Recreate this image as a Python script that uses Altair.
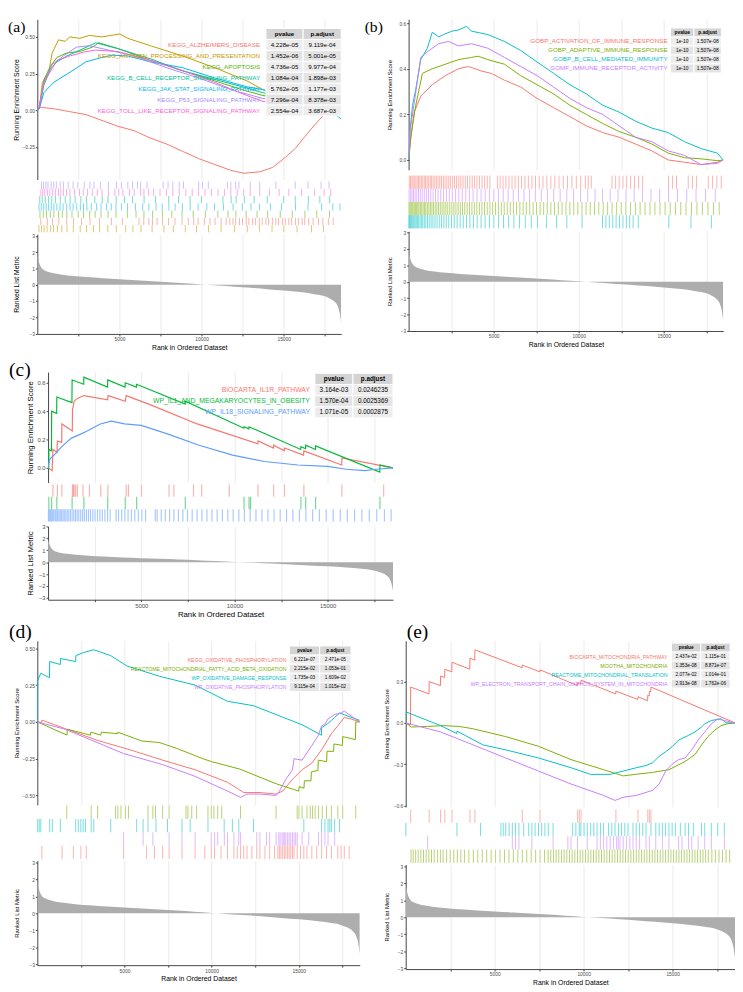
import altair as alt
import pandas as pd

SANS = "Liberation Sans"
SERIF = "Liberation Serif"
GRID_COLOR = "#EBEBEB"
AXIS_COLOR = "#444444"
LABEL_COLOR = "#4D4D4D"
AREA_COLOR = "#ADADAD"
HEADER_FILL = "#D4D4D4"
CELL_FILLS = ["#EDEDED", "#E4E4E4"]

RANK_MAX = 18500
GRID_RANKS = [2500, 5000, 7500, 10000, 12500, 15000, 17500]
METRIC_TICKS = [-3, -2, -1, 0, 1, 2, 3]
TABLE_HEADER = ["pvalue", "p.adjust"]
X_TITLE = "Rank in Ordered Dataset"
ES_TITLE = "Running Enrichment Score"
METRIC_TITLE = "Ranked List Metric"

# ranked list metric (shared gene ranking)
METRIC_RANK = [0, 100, 250, 450, 700, 1000, 1500, 2200, 3000, 4000, 5000, 6000, 7000, 8000, 9000,
               10000, 11000, 12000, 13000, 14000, 15000, 16000, 16800, 17400, 17800, 18100, 18300, 18420, 18500]
METRIC_SCORE = [1.9, 1.4, 1.05, 0.88, 0.78, 0.70, 0.62, 0.54, 0.47, 0.40, 0.34, 0.28, 0.22, 0.16, 0.09,
                0.02, -0.05, -0.12, -0.19, -0.27, -0.35, -0.45, -0.56, -0.68, -0.84, -1.05, -1.35, -1.8, -2.4]

# ---------------- panel (a) ----------------
A_NAMES = ["KEGG_ALZHEIMERS_DISEASE", "KEGG_ANTIGEN_PROCESSING_AND_PRESENTATION", "KEGG_APOPTOSIS",
           "KEGG_B_CELL_RECEPTOR_SIGNALING_PATHWAY", "KEGG_JAK_STAT_SIGNALING_PATHWAY",
           "KEGG_P53_SIGNALING_PATHWAY", "KEGG_TOLL_LIKE_RECEPTOR_SIGNALING_PATHWAY"]
A_COLORS = ["#F8766D", "#C49A00", "#53B400", "#00C094", "#00B6EB", "#A58AFF", "#FB61D7"]
A_PVALUE = ["4.228e-05", "1.452e-06", "4.736e-05", "1.084e-04", "5.762e-05", "7.296e-04", "2.554e-04"]
A_PADJUST = ["9.119e-04", "5.001e-05", "9.977e-04", "1.898e-03", "1.177e-03", "8.378e-03", "3.687e-03"]
A_TRACK_ORDER = [5, 6, 3, 4, 2, 0, 1]

A1_RANK = [0, 180, 1000, 1980, 2960, 3940, 4920, 5900, 6880, 7860, 8840, 9820, 10800, 11780, 12570, 13550,
           14330, 15120, 15710, 16290, 16880, 17470, 17860, 18500]
A1_ES = [0, 0.02, 0.01, -0.01, -0.03, -0.07, -0.11, -0.14, -0.19, -0.23, -0.28, -0.33, -0.37, -0.41, -0.43, -0.42,
         -0.39, -0.32, -0.26, -0.18, -0.10, -0.03, 0.0, 0.0]
A2_RANK = [0, 120, 310, 700, 900, 1290, 1690, 1980, 2570, 3160, 3940, 5020, 5510, 6880, 8840, 10800, 12760,
           13740, 15310, 16880, 18500]
A2_ES = [0, 0.01, 0.19, 0.26, 0.39, 0.48, 0.47, 0.50, 0.49, 0.51, 0.50, 0.52, 0.49, 0.44, 0.37, 0.29, 0.20,
         0.14, 0.06, 0.01, 0.0]
A3_RANK = [0, 120, 410, 800, 1200, 1780, 2570, 3350, 3740, 4920, 6880, 8840, 10800, 12760, 13740, 15700, 17660, 18500]
A3_ES = [0, 0.01, 0.21, 0.30, 0.36, 0.39, 0.40, 0.43, 0.46, 0.42, 0.34, 0.27, 0.20, 0.13, 0.10, 0.07, 0.03, 0.0]
A4_RANK = [0, 120, 400, 800, 1200, 1800, 2600, 3550, 4900, 6900, 8800, 10800, 12800, 13700, 15700, 17600, 18500]
A4_ES = [0, 0.02, 0.17, 0.28, 0.33, 0.37, 0.41, 0.46, 0.42, 0.35, 0.27, 0.21, 0.15, 0.12, 0.08, 0.04, 0.0]
A5_RANK = [0, 120, 400, 1000, 2000, 2960, 3940, 4530, 5500, 6880, 8840, 10800, 12760, 13740, 15700, 17660, 18500]
A5_ES = [0, 0.01, 0.12, 0.19, 0.26, 0.33, 0.36, 0.375, 0.37, 0.33, 0.29, 0.22, 0.16, 0.14, 0.08, 0.01, -0.06]
A6_RANK = [0, 120, 400, 900, 1590, 2380, 3160, 3940, 5900, 7860, 9820, 11780, 13740, 15700, 17660, 18500]
A6_ES = [0, 0.02, 0.19, 0.31, 0.37, 0.43, 0.44, 0.42, 0.37, 0.29, 0.22, 0.14, 0.08, 0.06, 0.02, 0.0]
A7_RANK = [0, 120, 400, 1200, 1980, 2960, 3550, 4920, 6880, 8840, 10800, 12760, 13740, 15700, 17660, 18500]
A7_ES = [0, 0.03, 0.19, 0.34, 0.37, 0.40, 0.41, 0.40, 0.34, 0.27, 0.19, 0.10, 0.06, 0.03, 0.01, 0.0]

A1_HITS = [210, 610, 920, 1310, 1790, 2210, 2690, 3210, 3790, 4510, 5190, 6190, 6480, 6790, 7010, 7290, 7620, 7990,
           8380, 8810, 9190, 9520, 9790, 10180, 10510, 10820, 11190, 11490, 11720, 11910, 12080, 12310, 12490, 12720,
           12880, 13110, 13290, 13520, 13690, 13920, 14080, 14310, 14520, 14680, 14920, 15090, 15310, 15480, 15720,
           15890, 16120, 16280, 16520, 16790, 17120, 17380, 17720, 18010]
A2_HITS = [100, 260, 410, 590, 810, 990, 1220, 1490, 1810, 2190, 2610, 2990, 3420, 3790, 4290, 4810, 5380, 5820,
           6310, 6990, 7710, 8280, 9010, 9690, 10420, 11190, 12010, 12780, 13520, 14290, 15010, 15810, 16690, 17420]
A3_HITS = [160, 360, 560, 790, 1010, 1290, 1520, 1800, 2110, 2490, 2810, 3190, 3520, 3880, 4310, 4790, 5480, 6010,
           6490, 7020, 7610, 8190, 8810, 9490, 10230, 10990, 11610, 12090, 12710, 13380, 14020, 14790, 15520, 16290,
           17010, 17790]
A4_HITS = [150, 300, 480, 690, 880, 1100, 1400, 1700, 2000, 2300, 2650, 3000, 3500, 3950, 4300, 4800, 5300, 5800,
           6500, 7200, 8000, 8600, 9300, 10000, 11300, 11800, 12100, 12600, 13200, 14000, 15000, 15700, 16500, 17200,
           17800]
A5_HITS = [100, 240, 390, 540, 690, 850, 1010, 1190, 1380, 1570, 1790, 1990, 2180, 2400, 2620, 2810, 3020, 3290,
           3610, 3880, 4210, 4500, 4790, 5120, 5490, 5980, 6410, 6790, 7230, 7600, 8010, 8390, 8830, 9310, 9790,
           10320, 10790, 11330, 11920, 12480, 13010, 13520, 14190, 14870, 15720, 16480, 17310, 17990, 18420]
A6_HITS = [250, 380, 520, 650, 840, 1000, 1160, 1390, 1590, 1880, 2180, 2470, 2860, 3200, 3450, 3840, 4330, 4820,
           5120, 5510, 5800, 6100, 6290, 6680, 7660, 7960, 8250, 8640, 8900, 9820, 10050, 10410, 11580, 11780,
           12070, 12270, 12960, 13540, 14520, 15700, 16480, 17270, 17760]
A7_HITS = [220, 330, 450, 610, 760, 920, 1100, 1290, 1430, 1590, 1780, 1980, 2270, 2570, 2800, 3060, 3350, 3650,
           3940, 4330, 4720, 4960, 5210, 5610, 5900, 6290, 6490, 6780, 7080, 7470, 7860, 8250, 8640, 9040, 9430,
           9820, 10210, 10600, 11000, 11390, 11780, 12170, 12560, 12960, 13540, 14130, 14720, 15310, 16090, 16880,
           17460, 17860]

# ---------------- panel (b) ----------------
B_NAMES = ["GOBP_ACTIVATION_OF_IMMUNE_RESPONSE", "GOBP_ADAPTIVE_IMMUNE_RESPONSE",
           "GOBP_B_CELL_MEDIATED_IMMUNITY", "GOMF_IMMUNE_RECEPTOR_ACTIVITY"]
B_COLORS = ["#F8766D", "#7CAE00", "#00BFC4", "#C77CFF"]
B_PVALUE = ["1e-10", "1e-10", "1e-10", "1e-10"]
B_PADJUST = ["1.507e-08", "1.507e-08", "1.507e-08", "1.507e-08"]
B_TRACK_ORDER = [0, 3, 1, 2]

B1_RANK = [0, 135, 330, 710, 1390, 2160, 2930, 3510, 4280, 4860, 5630, 6590, 7550, 8520, 9480, 10440, 11410,
           12370, 13340, 14300, 15260, 16230, 17190, 18150, 18500]
B1_ES = [0, 0.096, 0.21, 0.28, 0.33, 0.37, 0.40, 0.41, 0.39, 0.38, 0.35, 0.32, 0.27, 0.23, 0.19, 0.15, 0.12,
         0.10, 0.07, 0.04, 0.0, -0.01, -0.02, -0.01, 0.0]
B2_RANK = [0, 135, 420, 810, 1390, 2160, 2930, 3700, 4090, 4660, 5630, 6590, 7550, 8520, 9480, 10440, 11410,
           12370, 13340, 14300, 15260, 16230, 17190, 18150, 18500]
B2_ES = [0, 0.11, 0.24, 0.38, 0.40, 0.42, 0.44, 0.45, 0.455, 0.44, 0.42, 0.37, 0.33, 0.29, 0.24, 0.20, 0.16,
         0.125, 0.10, 0.07, 0.03, 0.01, 0.005, -0.003, 0.0]
B3_RANK = [0, 80, 230, 420, 710, 1100, 1390, 1770, 2060, 2540, 2930, 3410, 3700, 4660, 5630, 6590, 7550, 8520,
           9480, 10440, 11410, 12370, 13340, 14300, 15260, 16230, 17190, 18150, 18500]
B3_ES = [0, 0.125, 0.24, 0.31, 0.44, 0.49, 0.56, 0.54, 0.55, 0.565, 0.57, 0.586, 0.565, 0.55, 0.52, 0.48, 0.43,
         0.38, 0.33, 0.29, 0.24, 0.21, 0.17, 0.14, 0.12, 0.08, 0.05, 0.03, 0.0]
B4_RANK = [0, 80, 330, 710, 1200, 1770, 2350, 2930, 3700, 4660, 5630, 6590, 7550, 8520, 9480, 10440, 11410,
           12370, 13340, 14300, 15260, 16230, 17190, 18150, 18500]
B4_ES = [0, 0.125, 0.25, 0.45, 0.48, 0.51, 0.52, 0.50, 0.51, 0.49, 0.45, 0.41, 0.37, 0.32, 0.27, 0.23, 0.20,
         0.15, 0.10, 0.08, 0.04, 0.02, -0.02, -0.015, 0.0]

B1_HITS = [40, 110, 190, 260, 330, 420, 500, 580, 660, 750, 830, 920, 1000, 1090, 1180, 1270, 1350, 1440, 1540,
           1630, 1730, 1830, 1930, 2040, 2140, 2250, 2360, 2470, 2590, 2700, 2820, 2950, 3070, 3200, 3330, 3460,
           3600, 3740, 3880, 4020, 4170, 4320, 4470, 4620, 4780, 5220, 5380, 5550, 5720, 5900, 6080, 6260, 6450,
           6640, 6840, 7040, 7250, 7460, 7680, 7900, 8130, 8360, 8600, 8840, 9090, 9340, 9600, 9860, 10120, 10390,
           10560, 10740, 11960, 12170, 12380, 12600, 12820, 13050, 13280, 13520, 13760, 15280, 15520, 15750, 16440,
           16690, 16930, 17620, 17870, 18120, 18380]
B2_HITS = [20, 80, 140, 200, 260, 330, 400, 470, 540, 610, 690, 770, 850, 930, 1010, 1100, 1190, 1280, 1370, 1460,
           1560, 1660, 1760, 1860, 1970, 2080, 2190, 2300, 2420, 2540, 2660, 2780, 2910, 3040, 3170, 3300, 3440,
           3580, 3720, 3860, 4010, 4160, 4310, 4460, 4620, 4780, 4940, 5110, 5280, 5450, 5620, 5800, 5980, 6160,
           6350, 6540, 6730, 6920, 7120, 7320, 7520, 7730, 7940, 8150, 8360, 8580, 8800, 9020, 9250, 9480, 9710,
           9950, 10190, 10430, 10680, 10930, 11180, 11440, 11700, 11960, 12230, 12500, 12770, 13050, 13330, 13610,
           13900, 14190, 14480, 14780, 15080, 15380, 15690, 16000, 16310, 16630, 16950, 17270, 17600, 17930, 18260]
B3_HITS = [10, 50, 100, 150, 200, 260, 320, 380, 450, 520, 590, 670, 750, 830, 920, 1010, 1110, 1210, 1320, 1430,
           1550, 1670, 1800, 1930, 2070, 2210, 2360, 2520, 2680, 2850, 3030, 3210, 3400, 3600, 3810, 4030, 4260,
           4500, 4750, 5010, 5290, 5580, 5880, 6190, 6520, 6860, 7210, 7580, 8100, 8700, 9300, 10200, 11400, 11600,
           11800, 12000, 12200, 12400, 12600, 12800, 13000, 13200, 13500, 15300, 16600, 17800]
B4_HITS = [30, 120, 200, 290, 380, 480, 580, 690, 800, 920, 1040, 1170, 1300, 1440, 1580, 1730, 1890, 2050, 2220,
           2390, 2570, 2760, 2950, 3150, 3360, 3570, 3790, 4020, 4260, 4500, 4750, 5010, 5280, 5560, 5850, 6150,
           6460, 6780, 7110, 7450, 7800, 8160, 8530, 8910, 9300, 9700, 10110, 10530, 10960, 11400, 11850, 12310,
           12780, 13260, 13750, 14250, 14760, 15280, 15810, 16350, 16900, 17460, 18030]

# ---------------- panel (c) ----------------
C_NAMES = ["BIOCARTA_IL1R_PATHWAY", "WP_IL1_AND_MEGAKARYOCYTES_IN_OBESITY", "WP_IL18_SIGNALING_PATHWAY"]
C_COLORS = ["#F8766D", "#00BA38", "#619CFF"]
C_PVALUE = ["3.164e-03", "1.570e-04", "1.071e-05"]
C_PADJUST = ["0.0246235", "0.0025369", "0.0002875"]
C_TRACK_ORDER = [0, 1, 2]

C1_RANK = [0, 220, 262, 480, 500, 733, 740, 1300, 1310, 1396, 1570, 1920, 3200, 3220, 4140, 4190, 5400, 8000,
           11250, 11260, 12090, 12100, 12670, 12680, 13700, 13720, 15750, 15760, 18500]
C1_ES = [0, -0.02, 0.13, 0.11, 0.19, 0.18, 0.31, 0.26, 0.41, 0.47, 0.49, 0.51, 0.48, 0.51, 0.47, 0.51, 0.45, 0.31,
         0.17, 0.19, 0.14, 0.16, 0.12, 0.14, 0.09, 0.12, 0.02, 0.07, 0.0]
C2_RANK = [0, 35, 40, 185, 192, 460, 470, 1280, 1290, 1910, 1920, 3190, 3200, 4130, 4140, 4740, 4750, 7350, 7360,
           10500, 10510, 10770, 10780, 13550, 13560, 13810, 13820, 14340, 14350, 17790, 17800, 18500]
C2_ES = [0, -0.002, 0.13, 0.12, 0.40, 0.385, 0.50, 0.46, 0.62, 0.59, 0.64, 0.57, 0.62, 0.57, 0.60, 0.57, 0.59,
         0.45, 0.47, 0.28, 0.29, 0.275, 0.29, 0.13, 0.15, 0.135, 0.16, 0.13, 0.155, -0.03, 0.02, 0.0]
C3_RANK = [0, 80, 400, 733, 1250, 1780, 2100, 2800, 3400, 4100, 5000, 6400, 8100, 9900, 11600, 13400, 15000, 16000,
           17000, 17600, 18500]
C3_ES = [0, 0.06, 0.10, 0.15, 0.21, 0.24, 0.26, 0.31, 0.33, 0.31, 0.30, 0.24, 0.16, 0.09, 0.045, 0.02, 0.01, -0.01,
         -0.02, -0.01, 0.0]

C1_HITS = [262, 500, 740, 1310, 1360, 1400, 1480, 1570, 1870, 2220, 2830, 3210, 4190, 4310, 5010, 6490, 6750, 7800,
           8240, 9720, 11260, 12100, 12680, 13720, 15760, 18000]
C2_HITS = [40, 192, 470, 1290, 1920, 3200, 4140, 4750, 7360, 10510, 10780, 10860, 13560, 13820, 14350, 17800]
C3_HITS = [20, 70, 130, 190, 250, 310, 380, 440, 510, 580, 650, 720, 800, 870, 950, 1030, 1110, 1200, 1290, 1380,
           1470, 1560, 1650, 1750, 1850, 1950, 2060, 2170, 2280, 2400, 2520, 2650, 2780, 2910, 3050, 3190, 3330,
           3650, 3780, 3950, 4120, 4290, 4470, 4650, 4840, 5030, 5230, 5750, 5850, 6070, 6290, 6520, 6750, 6990,
           7230, 7480, 7730, 7990, 8250, 8520, 8790, 9070, 9350, 9640, 9930, 10230, 10530, 10840, 11150, 11470,
           11790, 12120, 12450, 12790, 13130, 13480, 13830, 14190, 14550, 14920, 15290, 15670, 16050, 16440, 16830,
           17230, 17630, 18040, 18400]

# ---------------- panel (d) ----------------
D_NAMES = ["KEGG_OXIDATIVE_PHOSPHORYLATION", "REACTOME_MITOCHONDRIAL_FATTY_ACID_BETA_OXIDATION",
           "WP_OXIDATIVE_DAMAGE_RESPONSE", "WP_OXIDATIVE_PHOSPHORYLATION"]
D_COLORS = ["#F8766D", "#7CAE00", "#00BFC4", "#C77CFF"]
D_PVALUE = ["6.221e-07", "2.215e-02", "1.735e-03", "9.115e-04"]
D_PADJUST = ["2.471e-05", "1.053e-01", "1.609e-02", "1.015e-02"]
D_TRACK_ORDER = [1, 2, 3, 0]

D1_RANK = [0, 250, 260, 3460, 5330, 7190, 9050, 10910, 11840, 12770, 13700, 14080, 14640, 15190, 15750, 16310,
           16870, 17240, 17610, 17990, 18500]
D1_ES = [0, -0.003, 0.012, -0.126, -0.19, -0.26, -0.325, -0.41, -0.48, -0.48, -0.49, -0.47, -0.39, -0.325, -0.28,
         -0.19, -0.08, -0.027, 0.03, 0.02, 0.0]
D2_RANK = [0, 1700, 1720, 3050, 3070, 3650, 3670, 4600, 4620, 6000, 7000, 8000, 9500, 10000, 11600, 13700, 15000,
           15020, 15300, 15320, 15700, 15720, 16100, 16120, 16600, 16620, 17000, 17020, 17500, 17520, 18250, 18270, 18500]
D2_ES = [0, -0.09, -0.05, -0.09, -0.07, -0.09, -0.07, -0.08, -0.07, -0.13, -0.14, -0.18, -0.25, -0.27, -0.32, -0.42,
         -0.47, -0.44, -0.45, -0.40, -0.40, -0.34, -0.33, -0.26, -0.27, -0.20, -0.20, -0.15, -0.16, -0.10, -0.12, 0.0, 0.0]
D3_RANK = [0, 20, 200, 700, 710, 1320, 1330, 2200, 2210, 2630, 3240, 4210, 5140, 7000, 9050, 10910, 12400, 15200,
           16300, 16310, 16680, 16870, 17060, 17340, 18500]
D3_ES = [0, 0.28, 0.33, 0.30, 0.41, 0.39, 0.43, 0.41, 0.45, 0.47, 0.49, 0.45, 0.38, 0.31, 0.25, 0.14, 0.11, -0.02,
         -0.09, -0.04, -0.01, 0.01, 0.03, 0.06, 0.01]
D4_RANK = [0, 1600, 4950, 7190, 9050, 10910, 11660, 12030, 12770, 13700, 13890, 14260, 14640, 14730, 15190, 15750,
           16130, 16310, 16500, 16680, 17060, 17430, 17610, 18500]
D4_ES = [0, -0.05, -0.215, -0.29, -0.37, -0.47, -0.513, -0.49, -0.49, -0.50, -0.47, -0.39, -0.325, -0.25, -0.26,
         -0.16, -0.09, -0.027, -0.015, 0.02, 0.05, 0.06, 0.073, 0.0]

D1_HITS = [260, 1420, 2070, 2500, 2810, 4950, 6260, 6720, 7190, 7560, 8300, 9050, 9610, 9980, 10170, 10540, 10910,
           11280, 11470, 11660, 11840, 12030, 12310, 12590, 12770, 13060, 13330, 13610, 13800, 13890, 13980, 14080,
           14170, 14260, 14360, 14450, 14540, 14640, 14730, 14910, 15100, 15290, 15470, 15750, 16030, 16310, 16590,
           16870, 17240, 17430, 17610, 17890]
D2_HITS = [1690, 3090, 3460, 4490, 4620, 4800, 5050, 5230, 6350, 6630, 6780, 7190, 7560, 8530, 8640, 8860, 9140,
           9790, 9980, 10130, 10350, 10580, 11660, 13700, 14910, 15010, 15190, 15470, 15660, 15790, 15940, 16130,
           16350, 16590, 16870, 17240, 17520, 18270]
D3_HITS = [20, 110, 200, 710, 860, 1320, 2200, 2350, 2500, 2630, 2760, 3090, 3240, 4210, 5700, 6070, 6350, 6810,
           7470, 8300, 8770, 9790, 10720, 11190, 11560, 12400, 15290, 16310, 16500, 16680, 16780, 16870, 17060, 17340]
D4_HITS = [4950, 6070, 6630, 7560, 8300, 9050, 9980, 10170, 10350, 10730, 10910, 11280, 11560, 11660, 12590, 12770,
           13150, 13330, 13700, 13850, 13930, 14040, 14110, 14190, 14260, 14360, 14450, 14540, 14640, 14730, 14820,
           14910, 15190, 15570, 16130, 16310, 16500, 16680, 17060]

# ---------------- panel (e) ----------------
E_NAMES = ["BIOCARTA_MITOCHONDRIA_PATHWAY", "MOOTHA_MITOCHONDRIA", "REACTOME_MITOCHONDRIAL_TRANSLATION",
           "WP_ELECTRON_TRANSPORT_CHAIN_OXPHOS_SYSTEM_IN_MITOCHONDRIA"]
E_COLORS = ["#F8766D", "#7CAE00", "#00BFC4", "#C77CFF"]
E_PVALUE = ["2.437e-02", "1.353e-08", "2.077e-02", "2.913e-08"]
E_PADJUST = ["1.115e-01", "8.871e-07", "1.014e-01", "1.762e-06"]
E_TRACK_ORDER = [0, 2, 3, 1]

E1_RANK = [0, 270, 280, 1310, 1320, 1950, 1960, 2190, 2200, 2590, 2600, 3600, 3610, 3880, 3890, 6540, 6550, 7540,
           7550, 9650, 9660, 9840, 9850, 11800, 11810, 13040, 13050, 13590, 13600, 13680, 13690, 13770, 13780, 18500]
E1_ES = [0, -0.015, 0.26, 0.21, 0.30, 0.27, 0.34, 0.33, 0.39, 0.37, 0.44, 0.39, 0.47, 0.455, 0.53, 0.40, 0.42, 0.37,
         0.385, 0.27, 0.29, 0.28, 0.31, 0.21, 0.23, 0.17, 0.19, 0.16, 0.20, 0.195, 0.23, 0.225, 0.26, 0.0]
E2_RANK = [0, 310, 1230, 2140, 3000, 3790, 5620, 7460, 9290, 11120, 12220, 12950, 13870, 14790, 15700, 16250, 16620,
           16980, 17350, 17720, 18080, 18500]
E2_ES = [0, -0.03, -0.026, -0.02, -0.026, -0.043, -0.10, -0.17, -0.267, -0.34, -0.385, -0.373, -0.36, -0.34, -0.28,
         -0.23, -0.16, -0.10, -0.054, -0.02, -0.007, 0.0]
E3_RANK = [0, 10, 1960, 2870, 2880, 4340, 5620, 7460, 9290, 10390, 11490, 12950, 13500, 13870, 14240, 14600, 14970,
           15330, 15900, 16250, 16620, 16800, 17170, 17720, 18000, 18500]
E3_ES = [0, 0.08, -0.02, -0.078, -0.06, -0.16, -0.196, -0.255, -0.326, -0.374, -0.374, -0.326, -0.31, -0.29, -0.243,
         -0.21, -0.173, -0.125, -0.09, -0.066, -0.03, -0.007, 0.017, 0.03, 0.0, 0.0]
E4_RANK = [0, 1960, 3790, 5620, 7460, 9290, 11120, 11760, 12220, 12950, 13870, 14240, 14600, 14970, 15330, 15700,
           16070, 16430, 16800, 17170, 17530, 17900, 18500]
E4_ES = [0, -0.066, -0.16, -0.255, -0.35, -0.444, -0.527, -0.563, -0.54, -0.527, -0.49, -0.444, -0.35, -0.30, -0.267,
         -0.255, -0.196, -0.125, -0.066, -0.007, 0.028, 0.017, 0.0]

E1_HITS = [280, 1320, 1960, 2200, 2600, 3610, 3890, 6550, 7550, 9660, 9750, 9850, 11810, 13050, 13600, 13690, 13780]
E2_HITS = [300, 420, 560, 700, 850, 1000, 1150, 1300, 1450, 1600, 1780, 1950, 2100, 2300, 2500, 2700, 2900, 3100,
           3300, 3550, 3800, 4050, 4300, 4550, 4800, 5050, 5300, 5550, 5800, 6050, 6300, 6550, 6800, 7050, 7300,
           7550, 7800, 8000, 8150, 8300, 8450, 8600, 8750, 8900, 9050, 9200, 9350, 9500, 9650, 9800, 9950, 10100,
           10250, 10400, 10550, 10700, 10850, 11000, 11150, 11300, 11450, 11600, 11750, 11900, 12050, 12200, 12350,
           12500, 12650, 12800, 12950, 13100, 13250, 13400, 13550, 13700, 13850, 14000, 14150, 14300, 14450, 14600,
           14750, 14900, 15050, 15200, 15350, 15500, 15650, 15800, 15950, 16100, 16250, 16400, 16550, 16700, 16850,
           17000, 17200, 17400, 17600, 17800, 18000, 18200]
E3_HITS = [10, 2880, 4200, 5350, 5480, 5620, 5810, 5990, 6170, 6360, 6630, 6910, 7090, 7270, 7460, 7640, 7820, 8010,
           8280, 9380, 9560, 9750, 9840, 10020, 10200, 10390, 10570, 10750, 10940, 11120, 11400, 11580, 11760, 11950,
           12130, 12310, 12490, 12770, 12950, 13140, 13320, 13500, 13780, 14050, 14240, 14420, 14600, 14790, 14970,
           15150, 15430, 15700, 15890, 16160, 16620, 16800, 17170, 17530, 17900]
E4_HITS = [1230, 5990, 6170, 6360, 7090, 8280, 9110, 9290, 9650, 10200, 10750, 10940, 11120, 11300, 11490, 11670,
           11850, 11940, 12040, 12220, 12400, 12590, 12770, 12950, 13140, 13500, 13690, 14050, 14420, 14790, 15330,
           15520, 15890, 16070, 16430, 16800, 17170, 17900]

# ---------------- layout (sizes / positions, pixels) ----------------
LAY_A = dict(label="(a)", lab_x=-30, lab_y=0, lab_fs=16, lab_in_es=True, w=311, es_h=164, tick_h=55, rank_h=102,
             es_dom=[-0.473, 0.62], es_ticks=[-0.25, 0, 0.25, 0.5], es_fmt=".2f",
             rk_dom=[-3.02, 3.1], tick_dom=[-0.13, 7.27], ext=15, yt_fs=7, yt_pad=3, yl_fs=5,
             xl_fs=5, xt_fs=7, lw=1, tw=1,
             tab=dict(y0=15, dy=11.2, x0=234, xm=272, x1=311, lx=228, fs=6.3, lab_fs=6.4))
LAY_B = dict(label="(b)", lab_x=-45, lab_y=0, lab_fs=16, lab_in_es=True, w=322, es_h=154, tick_h=62, rank_h=102,
             es_dom=[-0.043, 0.617], es_ticks=[0, 0.2, 0.4, 0.6], es_fmt=".1f",
             rk_dom=[-3.0, 3.06], tick_dom=[-0.15, 4.44], ext=14, yt_fs=6, yt_pad=3, yl_fs=5,
             xl_fs=5, xt_fs=7, lw=1, tw=1,
             tab=dict(y0=13.5, dy=9.2, x0=268, xm=292, x1=320, lx=265, fs=5, lab_fs=6.4))
LAY_C = dict(label="(c)", lab_x=-29, lab_y=-12, lab_fs=20, lab_in_es=False, w=353, es_h=113, tick_h=42, rank_h=75,
             es_dom=[-0.103, 0.676], es_ticks=[0, 0.2, 0.4, 0.6], es_fmt=".1f",
             rk_dom=[-3.15, 3.0], tick_dom=[-0.16, 3.16], ext=12, yt_fs=8, yt_pad=2, yl_fs=6,
             xl_fs=6, xt_fs=8, lw=1.2, tw=1.2,
             tab=dict(y0=7, dy=11.4, x0=273, xm=312, x1=353, lx=268, fs=6.5, lab_fs=7))
LAY_D = dict(label="(d)", lab_x=-29, lab_y=-19, lab_fs=20, lab_in_es=True, w=330, es_h=168, tick_h=56, rank_h=107,
             es_dom=[-0.564, 0.551], es_ticks=[-0.5, -0.25, 0, 0.25, 0.5], es_fmt=".2f",
             rk_dom=[-3.05, 3.1], tick_dom=[-0.05, 4.05], ext=15, yt_fs=6, yt_pad=3, yl_fs=5,
             xl_fs=5, xt_fs=7, lw=1, tw=1,
             tab=dict(y0=10, dy=9.3, x0=258, xm=289, x1=321, lx=255, fs=4.8, lab_fs=5.3))
LAY_E = dict(label="(e)", lab_x=1, lab_y=-19, lab_fs=20, lab_in_es=True, w=337, es_h=170, tick_h=56, rank_h=107,
             es_dom=[-0.61, 0.596], es_ticks=[-0.6, -0.3, 0, 0.3], es_fmt=".1f",
             rk_dom=[-3.05, 3.1], tick_dom=[-0.05, 4.05], ext=14, yt_fs=6, yt_pad=3, yl_fs=5,
             xl_fs=5, xt_fs=7, lw=1, tw=1,
             tab=dict(y0=7, dy=9.2, x0=272, xm=302, x1=332, lx=268, fs=4.8, lab_fs=5.4))

# gaps between sub-views (pixels)
GAP_AB = 23
GAP_DE = 24
GAP_C_SHIFT = -13
GAP_ROW12 = 10
GAP_ROW23 = 4


def x_scale():
    return alt.Scale(domain=[0, RANK_MAX], nice=False, zero=False)


def y_axis(L, title, values, fmt):
    return alt.Axis(values=values, format=fmt, title=title, grid=False, domain=True, domainColor=AXIS_COLOR,
                    domainWidth=1, ticks=True, tickColor=AXIS_COLOR, tickSize=2, labelFontSize=L["yl_fs"],
                    labelColor=LABEL_COLOR, labelPadding=1, labelOverlap=False, titleFontSize=L["yt_fs"],
                    titleFontWeight="normal", titleColor="black", titlePadding=L["yt_pad"],
                    minExtent=L["ext"], maxExtent=L["ext"])


def one_row(value):
    return pd.DataFrame({"t": [value]})


def txt(value, x, y, size, color, align="center", bold=False, font=SANS, baseline="middle"):
    return alt.Chart(one_row(value)).mark_text(
        align=align, baseline=baseline, fontSize=size, font=font,
        fontWeight="bold" if bold else "normal", color=color
    ).encode(x=alt.value(x), y=alt.value(y), text="t:N")


def panel_label(L):
    return txt(L["label"], L["lab_x"], L["lab_y"], L["lab_fs"], "black", align="left", font=SERIF,
               baseline="top")


def cell(x0, x1, y0, y1, fill):
    return alt.Chart(one_row(0)).mark_rect(fill=fill, stroke="white", strokeWidth=1).encode(
        x=alt.value(x0), x2=alt.value(x1), y=alt.value(y0), y2=alt.value(y1))


def table_layers(names, colors, pvals, padjs, L):
    T = L["tab"]
    y0, dy = T["y0"], T["dy"]
    x0, xm, x1 = T["x0"], T["xm"], T["x1"]
    out = [cell(x0, xm, y0 - dy / 2, y0 + dy / 2, HEADER_FILL),
           cell(xm, x1, y0 - dy / 2, y0 + dy / 2, HEADER_FILL),
           txt(TABLE_HEADER[0], (x0 + xm) / 2, y0, T["fs"], "black", bold=True),
           txt(TABLE_HEADER[1], (xm + x1) / 2, y0, T["fs"], "black", bold=True)]
    for i, (n, c, pv, pa) in enumerate(zip(names, colors, pvals, padjs)):
        yc = y0 + (i + 1) * dy
        fill = CELL_FILLS[i % 2]
        out.append(cell(x0, xm, yc - dy / 2, yc + dy / 2, fill))
        out.append(cell(xm, x1, yc - dy / 2, yc + dy / 2, fill))
        out.append(txt(pv, (x0 + xm) / 2, yc, T["fs"], "black"))
        out.append(txt(pa, (xm + x1) / 2, yc, T["fs"], "black"))
        out.append(txt(n, T["lx"], yc, T["lab_fs"], c, align="right"))
    return out


def es_view(names, colors, ranks, scores, pvals, padjs, L):
    recs = []
    for n, c, r, s in zip(names, colors, ranks, scores):
        for rr, ss in zip(r, s):
            recs.append({"set": n, "col": c, "rank": rr, "es": ss})
    df = pd.DataFrame(recs)
    lines = alt.Chart(df).mark_line(strokeWidth=L["lw"], clip=True).encode(
        x=alt.X("rank:Q", scale=x_scale(),
                axis=alt.Axis(values=GRID_RANKS, grid=True, gridColor=GRID_COLOR, labels=False, ticks=False,
                              domain=False, title=None)),
        y=alt.Y("es:Q", scale=alt.Scale(domain=L["es_dom"], nice=False, zero=False),
                axis=y_axis(L, ES_TITLE, L["es_ticks"], L["es_fmt"])),
        color=alt.Color("col:N", scale=None),
        detail="set:N",
    )
    layers = [lines] + table_layers(names, colors, pvals, padjs, L)
    if L["lab_in_es"]:
        layers.append(panel_label(L))
    return alt.layer(*layers).properties(width=L["w"], height=L["es_h"])


def ticks_view(colors, hits, order, L):
    n = len(order)
    recs = []
    for pos, idx in enumerate(order):
        for h in hits[idx]:
            recs.append({"rank": h, "lo": n - pos - 1, "hi": n - pos, "col": colors[idx]})
    df = pd.DataFrame(recs)
    return alt.Chart(df).mark_rule(strokeWidth=L["tw"], opacity=0.55).encode(
        x=alt.X("rank:Q", scale=x_scale(), axis=None),
        y=alt.Y("lo:Q", scale=alt.Scale(domain=L["tick_dom"], nice=False, zero=False),
                axis=alt.Axis(title=" ", labels=False, ticks=False, domain=False, grid=False,
                              minExtent=L["ext"], maxExtent=L["ext"], titleFontSize=L["yt_fs"],
                              titlePadding=L["yt_pad"])),
        y2="hi:Q",
        color=alt.Color("col:N", scale=None),
    ).properties(width=L["w"], height=L["tick_h"])


def ranked_view(L):
    df = pd.DataFrame({"rank": METRIC_RANK, "m": METRIC_SCORE})
    return alt.Chart(df).mark_area(color=AREA_COLOR, interpolate="monotone", clip=True).encode(
        x=alt.X("rank:Q", scale=x_scale(),
                axis=alt.Axis(values=GRID_RANKS, grid=True, gridColor=GRID_COLOR, format="d",
                              labelExpr="datum.value % 5000 === 0 ? datum.label : ''",
                              labelFontSize=L["xl_fs"], labelColor=LABEL_COLOR, labelPadding=1,
                              labelOverlap=False, labelFlush=False, tickSize=2, tickColor=AXIS_COLOR,
                              domainColor=AXIS_COLOR, title=X_TITLE, titleFontSize=L["xt_fs"],
                              titleFontWeight="normal", titleColor="black", titlePadding=2)),
        y=alt.Y("m:Q", scale=alt.Scale(domain=L["rk_dom"], nice=False, zero=False),
                axis=y_axis(L, METRIC_TITLE, METRIC_TICKS, "d")),
        y2=alt.datum(0),
    ).properties(width=L["w"], height=L["rank_h"])


def gsea_panel(names, colors, ranks, scores, hits, pvals, padjs, order, L):
    return alt.vconcat(
        es_view(names, colors, ranks, scores, pvals, padjs, L),
        ticks_view(colors, hits, order, L),
        ranked_view(L),
        spacing=0,
    )


panel_a = gsea_panel(A_NAMES, A_COLORS,
                     [A1_RANK, A2_RANK, A3_RANK, A4_RANK, A5_RANK, A6_RANK, A7_RANK],
                     [A1_ES, A2_ES, A3_ES, A4_ES, A5_ES, A6_ES, A7_ES],
                     [A1_HITS, A2_HITS, A3_HITS, A4_HITS, A5_HITS, A6_HITS, A7_HITS],
                     A_PVALUE, A_PADJUST, A_TRACK_ORDER, LAY_A)
panel_b = gsea_panel(B_NAMES, B_COLORS, [B1_RANK, B2_RANK, B3_RANK, B4_RANK], [B1_ES, B2_ES, B3_ES, B4_ES],
                     [B1_HITS, B2_HITS, B3_HITS, B4_HITS], B_PVALUE, B_PADJUST, B_TRACK_ORDER, LAY_B)
panel_c = gsea_panel(C_NAMES, C_COLORS, [C1_RANK, C2_RANK, C3_RANK], [C1_ES, C2_ES, C3_ES],
                     [C1_HITS, C2_HITS, C3_HITS], C_PVALUE, C_PADJUST, C_TRACK_ORDER, LAY_C)
panel_d = gsea_panel(D_NAMES, D_COLORS, [D1_RANK, D2_RANK, D3_RANK, D4_RANK], [D1_ES, D2_ES, D3_ES, D4_ES],
                     [D1_HITS, D2_HITS, D3_HITS, D4_HITS], D_PVALUE, D_PADJUST, D_TRACK_ORDER, LAY_D)
panel_e = gsea_panel(E_NAMES, E_COLORS, [E1_RANK, E2_RANK, E3_RANK, E4_RANK], [E1_ES, E2_ES, E3_ES, E4_ES],
                     [E1_HITS, E2_HITS, E3_HITS, E4_HITS], E_PVALUE, E_PADJUST, E_TRACK_ORDER, LAY_E)

# small holder view for the "(c)" label, lets panel (c) sit further right than (a) and (d)
label_c = panel_label(LAY_C).properties(width=1, height=1)

row1 = alt.hconcat(panel_a, panel_b, spacing=GAP_AB)
row2 = alt.hconcat(label_c, panel_c, spacing=GAP_C_SHIFT)
row3 = alt.hconcat(panel_d, panel_e, spacing=GAP_DE)
upper = alt.vconcat(row1, row2, spacing=GAP_ROW12)
chart = alt.vconcat(upper, row3, spacing=GAP_ROW23, padding=0
                    ).configure(font=SANS).configure_view(strokeWidth=0)

chart.save("out.html", embed_options={"renderer": "svg", "actions": False})
